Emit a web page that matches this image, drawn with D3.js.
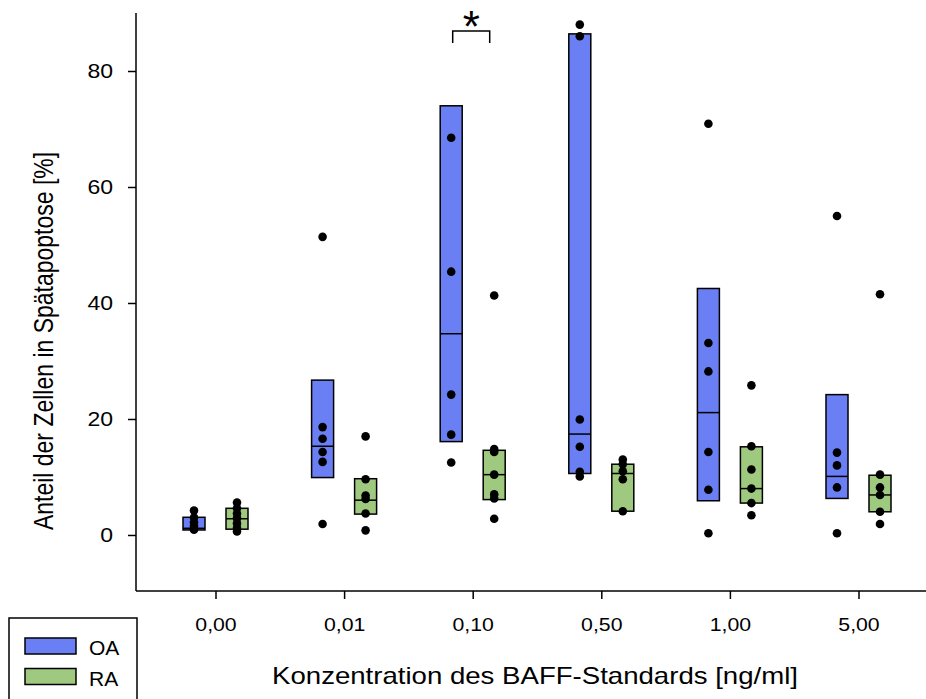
<!DOCTYPE html>
<html>
<head>
<meta charset="utf-8">
<script src="https://cdn.jsdelivr.net/npm/d3@7"></script>
<style>
  body { margin: 0; background: #fff; }
  svg { display: block; font-family: "Liberation Sans", Arial, sans-serif; }
</style>
</head>
<body>
<svg id="chart"></svg>
<script>
// concentrations of the BAFF standard
const categories = ["0,00", "0,01", "0,10", "0,50", "1,00", "5,00"];
const groups = ["OA", "RA"];
const colors = { OA: "#6a7ff3", RA: "#9ec97e" };

// single measurements per concentration (%)
const oaPoints = [
  [4.2, 3.0, 2.2, 1.6, 1.2, 0.9],
  [51.4, 18.6, 16.6, 14.3, 12.6, 1.9],
  [68.5, 45.4, 24.2, 17.3, 12.5],
  [88.0, 86.0, 19.9, 15.2, 10.9, 10.1],
  [70.9, 33.1, 28.2, 14.3, 7.8, 0.3],
  [55.0, 14.2, 12.0, 8.2, 0.3]
];
const raPoints = [
  [5.6, 4.6, 3.7, 2.9, 2.0, 1.2, 0.6],
  [17.0, 9.6, 6.8, 6.2, 3.7, 0.8],
  [41.3, 14.8, 14.3, 10.4, 7.0, 6.3, 2.8],
  [13.0, 12.2, 11.0, 9.6, 4.1],
  [25.8, 15.3, 11.3, 8.0, 5.5, 3.4],
  [41.5, 10.4, 8.2, 6.9, 4.0, 1.9]
];
// boxes: [lower, median, upper]
const oaBoxes = [
  [0.86, 1.15, 3.05], [9.9, 15.3, 26.7], [16.1, 34.7, 74.0],
  [10.6, 17.4, 86.4], [5.9, 21.1, 42.5], [6.3, 10.1, 24.2]
];
const raBoxes = [
  [1.0, 2.8, 4.6], [3.6, 6.0, 9.7], [6.1, 10.4, 14.6],
  [4.1, 10.6, 12.2], [5.5, 8.0, 15.2], [4.0, 6.9, 10.3]
];
const yTicks = [0, 20, 40, 60, 80];
const sigIndex = 2; // "*" between OA and RA at 0,10

const W = 926, H = 699;
const plotLeft = 136, plotTop = 13, plotBottom = 591;
const sx = 1.12; // lettering in the original is a bit wider than tall

const svg = d3.select("#chart")
    .attr("width", W)
    .attr("height", H);

const x = d3.scalePoint()
    .domain(categories)
    .range([215.5, 858.5]);

const y = d3.scaleLinear()
    .domain([-9.66, 90])
    .range([plotBottom, plotTop]);

const off = { OA: -21.5, RA: 21.5 };
const boxW = 22;

// axes
svg.append("g")
    .attr("transform", `translate(0,${plotBottom})`)
    .call(d3.axisBottom(x).tickSize(8).tickSizeOuter(0))
    .call(g => g.select(".domain").attr("d", `M${plotLeft},0H${W + 10}`))
    .call(g => g.selectAll("line, path").attr("stroke", "#000").attr("stroke-width", 1.5))
    .call(g => g.selectAll("text")
        .attr("y", 0).attr("dy", null)
        .attr("transform", `translate(0,40) scale(${sx},1)`)
        .style("font-size", "19px").attr("fill", "#000"));

svg.append("g")
    .attr("transform", `translate(${plotLeft},0)`)
    .call(d3.axisLeft(y).tickValues(yTicks).tickSize(8).tickSizeOuter(0))
    .call(g => g.select(".domain").attr("d", `M0,${plotTop}V${plotBottom}`))
    .call(g => g.selectAll("line, path").attr("stroke", "#000").attr("stroke-width", 1.5))
    .call(g => g.selectAll("text")
        .attr("x", 0).attr("dy", "0.35em")
        .attr("transform", `translate(-23,0) scale(1.18,1)`)
        .style("font-size", "19.5px").attr("fill", "#000"));

// boxes + points per group
const series = [
  { key: "OA", boxes: oaBoxes, pts: oaPoints },
  { key: "RA", boxes: raBoxes, pts: raPoints }
];

series.forEach(s => {
  const g = svg.append("g").attr("class", "series-" + s.key);
  const cx = i => x(categories[i]) + off[s.key];

  g.selectAll(".box")
    .data(s.boxes)
    .enter().append("rect")
    .attr("class", "box")
    .attr("x", (d, i) => cx(i) - boxW / 2)
    .attr("y", d => y(d[2]))
    .attr("width", boxW)
    .attr("height", d => y(d[0]) - y(d[2]))
    .attr("fill", colors[s.key])
    .attr("stroke", "#000")
    .attr("stroke-width", 1.5);

  g.selectAll(".median")
    .data(s.boxes)
    .enter().append("line")
    .attr("class", "median")
    .attr("x1", (d, i) => cx(i) - boxW / 2)
    .attr("x2", (d, i) => cx(i) + boxW / 2)
    .attr("y1", d => y(d[1]))
    .attr("y2", d => y(d[1]))
    .attr("stroke", "#000")
    .attr("stroke-width", 1.5);

  const flat = [];
  s.pts.forEach((arr, i) => arr.forEach(v => flat.push({ i, v })));
  g.selectAll(".pt")
    .data(flat)
    .enter().append("circle")
    .attr("class", "pt")
    .attr("cx", d => cx(d.i))
    .attr("cy", d => y(d.v))
    .attr("r", 4.3)
    .attr("fill", "#000");
});

// significance bracket
const bx1 = x(categories[sigIndex]) - 20, bx2 = x(categories[sigIndex]) + 17;
svg.append("path")
    .attr("d", `M${bx1},43V31H${bx2}V43`)
    .attr("fill", "none")
    .attr("stroke", "#000")
    .attr("stroke-width", 1.5);
svg.append("text")
    .attr("x", (bx1 + bx2) / 2)
    .attr("y", 42)
    .attr("text-anchor", "middle")
    .style("font-size", "44px")
    .text("*");

// axis titles
svg.append("text")
    .attr("transform", `translate(535,684) scale(1.2,1)`)
    .attr("text-anchor", "middle")
    .style("font-size", "23px")
    .text("Konzentration des BAFF-Standards [ng/ml]");

svg.append("text")
    .attr("transform", `translate(53,341) scale(1.2,1) rotate(-90)`)
    .attr("text-anchor", "middle")
    .style("font-size", "23px")
    .text("Anteil der Zellen in Spätapoptose [%]");

// legend
const lg = svg.append("g").attr("class", "legend");
lg.append("rect")
    .attr("x", 9).attr("y", 618)
    .attr("width", 128).attr("height", 100)
    .attr("fill", "#fff")
    .attr("stroke", "#000")
    .attr("stroke-width", 1.5);
groups.forEach((k, i) => {
  lg.append("rect")
      .attr("x", 25).attr("y", 638 + i * 30.5)
      .attr("width", 51).attr("height", 16)
      .attr("fill", colors[k])
      .attr("stroke", "#000")
      .attr("stroke-width", 1.5);
  lg.append("text")
      .attr("x", 89).attr("y", 655 + i * 30.5)
      .style("font-size", "21px")
      .text(k);
});
</script>
</body>
</html>
